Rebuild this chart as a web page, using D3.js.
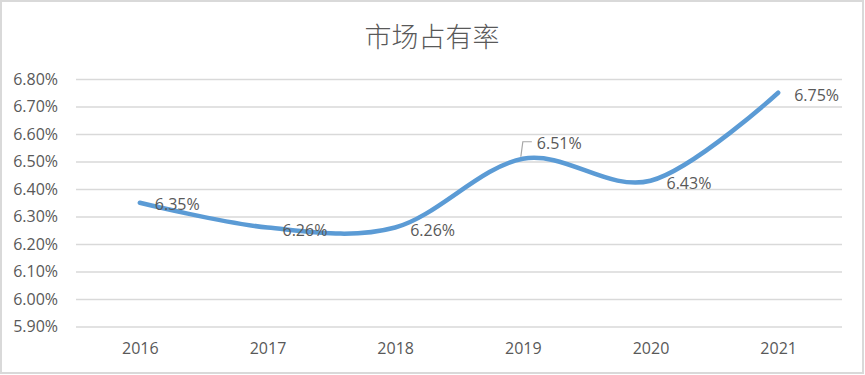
<!DOCTYPE html>
<html>
<head>
<meta charset="utf-8">
<script src="https://cdn.jsdelivr.net/npm/d3@7.9.0/dist/d3.min.js"></script>
<style>
  html, body { margin: 0; padding: 0; background: #fff; }
  svg { display: block; }
</style>
</head>
<body>
<div id="chart"></div>
<script>
// chart data
const years = ['2016', '2017', '2018', '2019', '2020', '2021'];
const shares = [0.0635, 0.0626, 0.0626, 0.0651, 0.0643, 0.0675];
const yTicks = [0.059, 0.060, 0.061, 0.062, 0.063, 0.064, 0.065, 0.066, 0.067, 0.068];
const title = '市场占有率';

const width = 865;
const height = 375;
const plot = { left: 76, right: 842, top: 79, bottom: 326.5 };

const font = '"Open Sans", "Liberation Sans", sans-serif';
const textColor = '#595959';

const svg = d3.select('#chart')
  .append('svg')
  .attr('width', width)
  .attr('height', height);

// outer border
svg.append('rect')
  .attr('x', 1).attr('y', 1)
  .attr('width', 862).attr('height', 372)
  .attr('fill', '#fff')
  .attr('stroke', '#d9d9d9')
  .attr('stroke-width', 2);

// title
svg.append('text')
  .attr('x', 432)
  .attr('y', 35)
  .attr('text-anchor', 'middle')
  .attr('dominant-baseline', 'central')
  .attr('font-family', '"Noto Sans CJK SC", sans-serif')
  .attr('font-size', 27)
  .attr('font-weight', 300)
  .attr('fill', textColor)
  .text(title);

const xScale = d3.scalePoint()
  .domain(years)
  .range([plot.left, plot.right])
  .padding(0.5);

const yScale = d3.scaleLinear()
  .domain([0.059, 0.068])
  .range([plot.bottom, plot.top]);

// gridlines
svg.append('g')
  .attr('class', 'gridlines')
  .attr('transform', `translate(${plot.left}, 0)`)
  .call(d3.axisLeft(yScale).tickValues(yTicks).tickFormat('').tickSize(-(plot.right - plot.left)))
  .call(g => g.select('.domain').remove())
  .selectAll('line')
  .attr('stroke', '#d9d9d9')
  .attr('stroke-width', 1.3);

// y axis labels
const yAxis = svg.append('g')
  .attr('transform', `translate(${plot.left - 18}, 0)`)
  .call(d3.axisLeft(yScale).tickValues(yTicks).tickFormat(d3.format('.2%')).tickSize(0).tickPadding(0));
yAxis.select('.domain').remove();
yAxis.selectAll('text')
  .attr('font-family', font)
  .attr('font-size', 16)
  .attr('fill', textColor);

// x axis labels
const xAxis = svg.append('g')
  .attr('transform', `translate(0, ${plot.bottom})`)
  .call(d3.axisBottom(xScale).tickSize(0).tickPadding(16));
xAxis.select('.domain').remove();
xAxis.selectAll('text')
  .attr('font-family', font)
  .attr('font-size', 16)
  .attr('fill', textColor);

const points = years.map((y, i) => ({ year: y, value: shares[i] }));

// smoothed line
const line = d3.line()
  .x(d => xScale(d.year))
  .y(d => yScale(d.value))
  .curve(d3.curveCardinal.tension(0));

svg.append('path')
  .datum(points)
  .attr('d', line)
  .attr('fill', 'none')
  .attr('stroke', '#5b9bd5')
  .attr('stroke-width', 4.5)
  .attr('stroke-linecap', 'round');

// leader line for 2019 label
const p19 = points[3];
const lx = xScale(p19.year), ly = yScale(p19.value);
svg.append('path')
  .attr('d', `M${lx - 2},${ly - 2} L${lx},${ly - 17} L${lx + 9},${ly - 17}`)
  .attr('fill', 'none')
  .attr('stroke', '#a6a6a6')
  .attr('stroke-width', 1.2);

// data labels
const offsets = [
  { dx: 15, dy: 1 },
  { dx: 15, dy: 2 },
  { dx: 15, dy: 2 },
  { dx: 14, dy: -16 },
  { dx: 16, dy: 2 },
  { dx: 16, dy: 2 },
];

svg.append('g')
  .selectAll('text')
  .data(points)
  .join('text')
  .attr('x', (d, i) => xScale(d.year) + offsets[i].dx)
  .attr('y', (d, i) => yScale(d.value) + offsets[i].dy)
  .attr('dominant-baseline', 'central')
  .attr('font-family', font)
  .attr('font-size', 16)
  .attr('fill', textColor)
  .text(d => d3.format('.2%')(d.value));
</script>
</body>
</html>
